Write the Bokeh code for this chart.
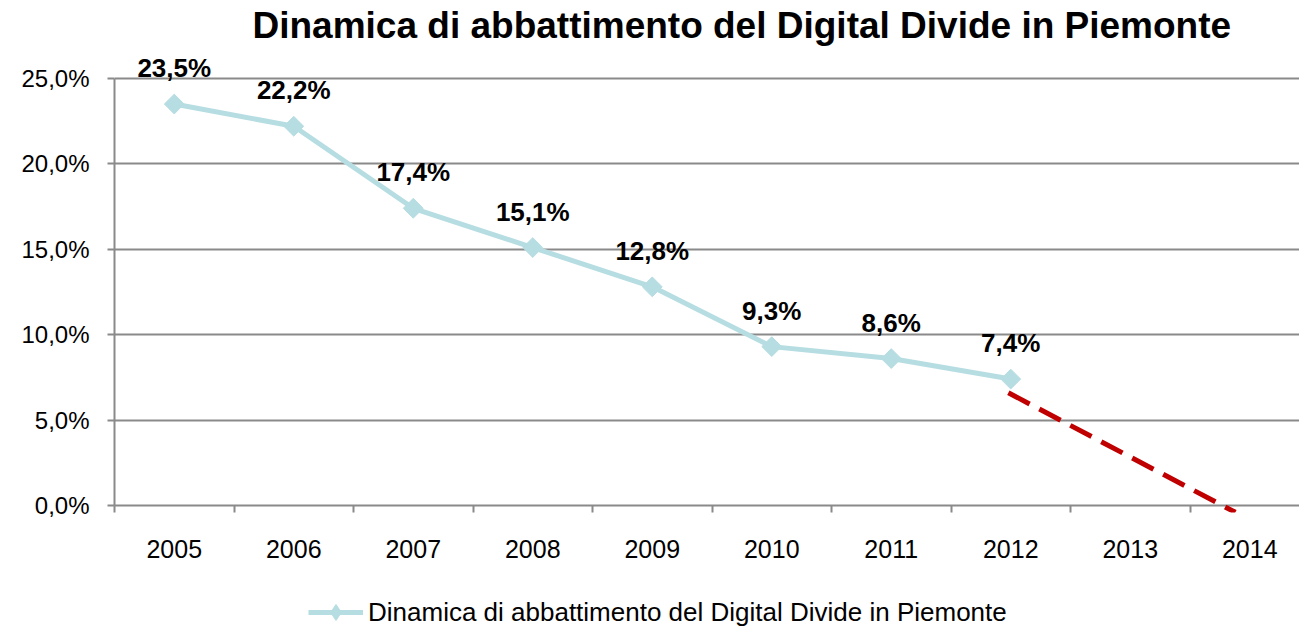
from bokeh.plotting import figure
from bokeh.layouts import column
from bokeh.models import Range1d, FixedTicker, Title, Legend, LegendItem, ColumnDataSource
from bokeh.core.properties import value
from bokeh.embed import file_html
from bokeh.resources import INLINE

# ---- data ----
years = [2005, 2006, 2007, 2008, 2009, 2010, 2011, 2012]
divide_pct = [23.5, 22.2, 17.4, 15.1, 12.8, 9.3, 8.6, 7.4]
point_labels = ["23,5%", "22,2%", "17,4%", "15,1%", "12,8%", "9,3%", "8,6%", "7,4%"]
trend_x = [2011.98, 2013.88]
trend_y = [6.6, -0.4]
x_tick_years = [2005, 2006, 2007, 2008, 2009, 2010, 2011, 2012, 2013, 2014]
y_ticks = [0, 5, 10, 15, 20, 25]
y_tick_labels = ["0,0%", "5,0%", "10,0%", "15,0%", "20,0%", "25,0%"]
title_text = "Dinamica di abbattimento del Digital Divide in Piemonte"
series_name = "Dinamica di abbattimento del Digital Divide in Piemonte"

FONT = "Liberation Sans"
TEAL = "#B6DDE2"
GRID = "#8a8a8a"

p = figure(frame_width=1185, frame_height=465, output_backend="svg", toolbar_location=None,
           x_range=Range1d(2004.5, 2004.5 + 1185 / 119.5),
           y_range=Range1d(-0.41, 26.81),
           min_border_left=114, min_border_right=0, min_border_top=0, min_border_bottom=52)
p.outline_line_color = None
p.background_fill_color = "white"
p.border_fill_color = "white"

p.title = Title(text=title_text, align="left", offset=138, text_font=FONT, standoff=4,
                text_font_size="37px", text_font_style="bold", text_color="black")

# y axis
yax = p.yaxis[0]
yax.ticker = FixedTicker(ticks=y_ticks)
yax.major_label_overrides = {t: l for t, l in zip(y_ticks, y_tick_labels)}
yax.bounds = (0, 25)
yax.axis_line_color = GRID
yax.axis_line_width = 2
yax.major_tick_line_color = GRID
yax.major_tick_line_width = 2
yax.major_tick_in = 0
yax.major_tick_out = 7
yax.minor_tick_line_color = None
yax.major_label_standoff = 18
yax.major_label_text_font = FONT
yax.major_label_text_font_size = "24px"
yax.major_label_text_color = "black"

# x axis
xax = p.xaxis[0]
xax.ticker = FixedTicker(ticks=x_tick_years, minor_ticks=[y - 0.5 for y in x_tick_years])
xax.major_label_overrides = {y: str(y) for y in x_tick_years}
xax.axis_line_color = None
xax.major_tick_line_color = None
xax.major_tick_in = 0
xax.major_tick_out = 0
xax.minor_tick_line_color = GRID
xax.minor_tick_line_width = 2
xax.minor_tick_in = 7
xax.minor_tick_out = 0
xax.major_label_standoff = 27
xax.major_label_text_font = FONT
xax.major_label_text_font_size = "25px"
xax.major_label_text_color = "black"

p.xgrid.grid_line_color = None
p.ygrid.ticker = FixedTicker(ticks=y_ticks)
p.ygrid.grid_line_color = GRID
p.ygrid.grid_line_width = 2

src = ColumnDataSource(dict(x=years, y=divide_pct, lab=point_labels))

p.line("x", "y", source=src, line_color=TEAL, line_width=5)
p.scatter("x", "y", source=src, marker="square", size=14, angle=0.785398,
          fill_color=TEAL, line_color=TEAL)
p.line(trend_x, trend_y, line_color="#C00000", line_width=5, line_dash="24 11")

p.text("x", "y", text="lab", source=src, text_font=value(FONT), text_font_size="26px",
       text_font_style="bold", text_color="black", text_align="center",
       text_baseline="middle", y_offset=-36)

# legend strip below the chart (its frame is aligned with the chart frame)
lg = figure(width=1299, height=63, output_backend="svg", toolbar_location=None,
            x_range=Range1d(0, 1), y_range=Range1d(0, 1),
            x_axis_type=None, y_axis_type=None, min_border=0)
lg.grid.visible = False
lg.outline_line_color = None
lr = lg.line([-5, -4], [-5, -5], line_color=TEAL, line_width=5)
mr = lg.scatter([-5], [-5], marker="diamond", size=14,
                fill_color=TEAL, line_color=TEAL)
legend = Legend(items=[LegendItem(label=series_name, renderers=[lr, mr])],
                location=(194, -5), orientation="horizontal",
                label_text_font=FONT, label_text_font_size="26px", label_text_color="black",
                glyph_width=55, glyph_height=40, label_standoff=5,
                border_line_color=None, background_fill_alpha=0,
                padding=0, margin=0)
lg.add_layout(legend)

layout = column(p, lg, spacing=0)
open("out.html", "w").write(file_html(layout, INLINE))
